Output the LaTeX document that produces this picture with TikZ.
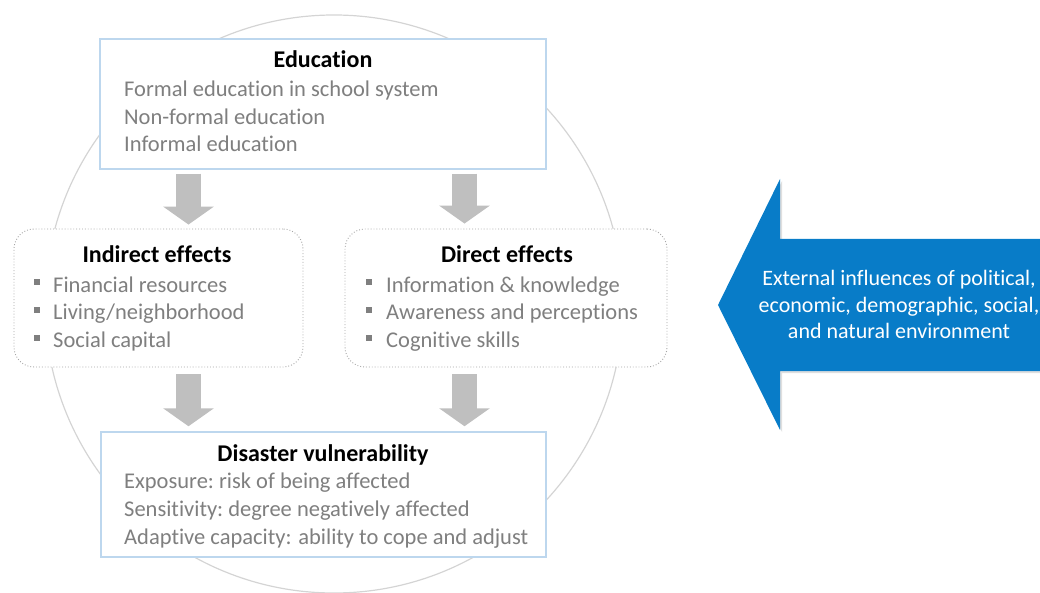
\documentclass[tikz,border=0pt]{standalone}
\usepackage{fontspec}
\setmainfont{Carlito}[Ligatures=NoCommon]
\usetikzlibrary{arrows.meta,shadows}
\definecolor{txtgray}{RGB}{127,127,127}
\definecolor{arrowgray}{RGB}{191,191,191}
\definecolor{circgray}{RGB}{212,212,212}
\definecolor{boxblue}{RGB}{189,215,238}
\definecolor{dotgray}{RGB}{166,166,166}
\definecolor{extblue}{RGB}{8,124,200}
\begin{document}
\begin{tikzpicture}[x=1pt,y=-1pt,
  bluebox/.style={draw=boxblue,line width=1.5pt,fill=white,inner sep=0pt},
  dotbox/.style={draw=dotgray,dotted,line width=0.9pt,rounded corners=20pt,fill=white,inner sep=0pt},
  title/.style={font=\fontsize{24}{28}\selectfont\bfseries,anchor=base,inner sep=0pt},
  body/.style={font=\fontsize{22.5}{26}\selectfont,text=txtgray,anchor=base west,inner sep=0pt},
  exttext/.style={font=\fontsize{22}{26}\selectfont,text=white,anchor=base,inner sep=0pt},
  bul/.style={fill=txtgray,minimum size=6pt,inner sep=0pt,anchor=center},
  blockarrow/.style={draw=arrowgray,line width=25pt,-{Triangle[width=50pt,length=18pt]}}]
\useasboundingbox (0,0) rectangle (1040,593);
% background circle
\draw[circgray,line width=1.2pt] (334,304) circle[radius=289];
% boxes
\node[bluebox,minimum width=446pt,minimum height=130pt] (edu) at (323,104) {};
\node[dotbox,minimum width=289pt,minimum height=138pt] (ind) at (158.5,298) {};
\node[dotbox,minimum width=322pt,minimum height=138pt] (dir) at (506,298) {};
\node[bluebox,minimum width=445pt,minimum height=125pt] (vul) at (323.5,494.5) {};
% education text
\node[title] (eduT) at (323,68) {Education};
\node[body] (edu1) at (124,97) {Formal education in school system};
\node[body] (edu2) at (124,124.5) {Non-formal education};
\node[body] (edu3) at (124,152) {Informal education};
% indirect effects
\node[title] (indT) at (157,263) {Indirect effects};
\node[bul] (ib1) at (37,282.5) {};
\node[body] (ind1) at (53,292) {Financial resources};
\node[bul] (ib2) at (37,310) {};
\node[body] (ind2) at (53,319.5) {Living/neighborhood};
\node[bul] (ib3) at (37,337.5) {};
\node[body] (ind3) at (53,347) {Social capital};
% direct effects
\node[title] (dirT) at (507,263) {Direct effects};
\node[bul] (db1) at (369,282.5) {};
\node[body] (dir1) at (386,292) {Information \& knowledge};
\node[bul] (db2) at (369,310) {};
\node[body] (dir2) at (386,319.5) {Awareness and perceptions};
\node[bul] (db3) at (369,337.5) {};
\node[body] (dir3) at (386,347) {Cognitive skills};
% vulnerability
\node[title] (vulT) at (323,461) {Disaster vulnerability};
\node[body] (vul1) at (124,488.5) {Exposure:\ risk of being affected};
\node[body] (vul2) at (124,516.5) {Sensitivity:\ degree negatively affected};
\node[body] (vul3) at (124,544) {Adaptive capacity: ability to cope and adjust};
% gray block arrows
\coordinate (cl) at (188.5,0);
\coordinate (cr) at (464.5,0);
\draw[blockarrow,shorten <=4pt,shorten >=4pt] (edu.south -| cl) -- (ind.north -| cl);
\draw[blockarrow,shorten <=4pt,shorten >=5pt] (edu.south -| cr) -- (dir.north -| cr);
\draw[blockarrow,shorten <=7pt,shorten >=5pt] (ind.south -| cl) -- (vul.north -| cl);
\draw[blockarrow,shorten <=7pt,shorten >=5pt] (dir.south -| cr) -- (vul.north -| cr);
% external influences arrow
\fill[extblue,drop shadow={shadow xshift=2pt,shadow yshift=-2pt,opacity=0.25}]
  (718,305) -- (780,179) -- (780,239) -- (1045,239) -- (1045,371) -- (780,371) -- (780,430) -- cycle;
\node[exttext] (ext1) at (899,286) {External influences of political,};
\node[exttext] (ext2) at (899,312.5) {economic, demographic, social,};
\node[exttext] (ext3) at (899,338.5) {and natural environment};
\end{tikzpicture}
\end{document}
